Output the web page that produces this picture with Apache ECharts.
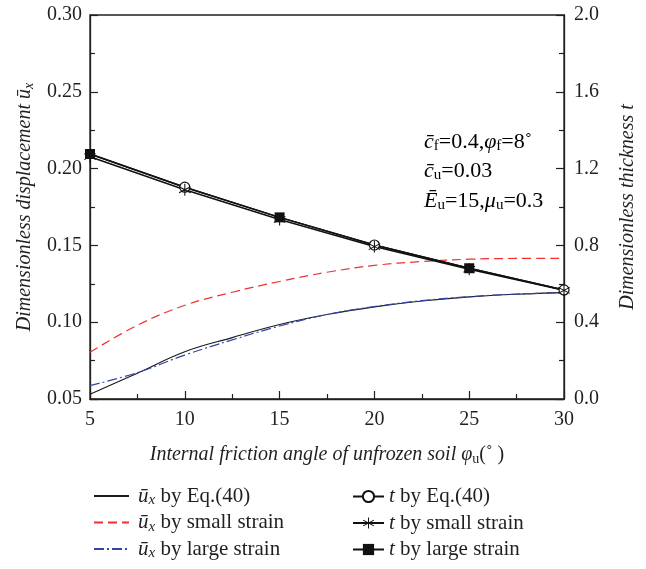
<!DOCTYPE html>
<html><head><meta charset="utf-8">
<script src="https://cdn.jsdelivr.net/npm/echarts/dist/echarts.min.js"></script>
<style>html,body{margin:0;padding:0;background:#fff}#c{width:646px;height:569px}</style>
</head><body><div id="c"></div><script>
// ---- data ----
const phi = [5, 7.5, 10, 12.5, 15, 17.5, 20, 22.5, 25, 27.5, 30];
const uxEq    = [0.0531, 0.0668, 0.0808, 0.0900, 0.0985, 0.1050, 0.1100, 0.1138, 0.1165, 0.1182, 0.1192];
const uxSmall = [0.0804, 0.0980, 0.1110, 0.1195, 0.1265, 0.1325, 0.1370, 0.1395, 0.1410, 0.1415, 0.1416];
const uxLarge = [0.0587, 0.0672, 0.0786, 0.0885, 0.0975, 0.1050, 0.1102, 0.1140, 0.1166, 0.1183, 0.1192];
const tPhi   = [5, 10, 15, 20, 25, 30];
const tEq    = [1.276, 1.103, 0.946, 0.802, 0.681, 0.568];
const tSmall = [1.262, 1.090, 0.935, 0.794, 0.676, 0.566];
const tLarge = [1.276, 1.103, 0.946, 0.802, 0.681, 0.568];
const circleAt = [10, 20, 30];
const squareAt = [5, 15, 25];
const starAt   = [5, 10, 15, 20, 25, 30];
const leftTicks = [0.05, 0.30, 0.05];
const rightTicks = [0, 2, 0.4];
const xTicks = [5, 30, 5];

const FONT = '"Liberation Serif", "DejaVu Serif", serif';
const INK = '#231f20';
const STAR = 'path://M4.6 0L5.4 0L5.4 10L4.6 10ZM0.87 2.15L9.53 7.15L9.13 7.85L0.47 2.85ZM0.47 7.15L9.13 2.15L9.53 2.85L0.87 7.85Z';

function mkRich(fs) {
  const ss = Math.round(fs * 0.7);
  return {
    n: {fontFamily: FONT, fontSize: fs, color: INK, lineHeight: 24},
    i: {fontFamily: FONT, fontSize: fs, color: INK, fontStyle: 'italic', lineHeight: 24},
    si: {fontFamily: FONT, fontSize: ss, color: INK, fontStyle: 'italic', lineHeight: 24, padding: [9, 0, 0, 0]},
    s: {fontFamily: FONT, fontSize: ss, color: INK, lineHeight: 24, padding: [9, 0, 0, 0]}
  };
}
const rich = mkRich(20);
const richLeg = mkRich(21);
const richAnn = mkRich(22);

const legendText = {
  uEq: '{i|ū}{si|x}{n| by Eq.(40)}',
  uSmall: '{i|ū}{si|x}{n| by small strain}',
  uLarge: '{i|ū}{si|x}{n| by large strain}',
  tEq: '{i|t}{n| by Eq.(40)}',
  tSmall: '{i|t}{n| by small strain}',
  tLarge: '{i|t}{n| by large strain}'
};

function pairs(xs, ys) { return xs.map((x, k) => [x, ys[k]]); }
function marked(xs, ys, at) {
  return xs.map((x, k) => at.indexOf(x) >= 0 ? {value: [x, ys[k]]} : {value: [x, ys[k]], symbol: 'none'});
}

const chart = echarts.init(document.getElementById('c'), null, {renderer: 'canvas'});
const axisCommon = {
  axisLine: {show: true, lineStyle: {color: INK, width: 1.3}},
  axisTick: {show: true, inside: true, length: 8, lineStyle: {color: INK, width: 1.2}},
  minorTick: {show: true, splitNumber: 2, length: 5, lineStyle: {color: INK, width: 1.2}},
  splitLine: {show: false},
  axisLabel: {fontFamily: FONT, fontSize: 20, color: INK}
};

chart.setOption({
  animation: false,
  backgroundColor: '#fff',
  grid: {left: 90, right: 78, top: 15, bottom: 170, show: true, borderColor: INK, borderWidth: 1.3, backgroundColor: 'transparent'},
  xAxis: Object.assign({}, axisCommon, {
    type: 'value', min: xTicks[0], max: xTicks[1], interval: xTicks[2],
    axisLabel: Object.assign({}, axisCommon.axisLabel, {margin: 11}),
    name: '{i|Internal friction angle of unfrozen soil φ}{s|u}{n|(˚ )}',
    nameLocation: 'middle', nameGap: 44,
    nameTextStyle: {rich: rich}
  }),
  yAxis: [
    Object.assign({}, axisCommon, {
      type: 'value', min: leftTicks[0], max: leftTicks[1], interval: leftTicks[2],
      axisLabel: Object.assign({}, axisCommon.axisLabel, {margin: 8, formatter: v => v.toFixed(2)}),
      name: '{i|Dimensionless displacement ū}{si|x}',
      nameLocation: 'middle', nameRotate: 90, nameGap: 50,
      nameTextStyle: {rich: rich}
    }),
    Object.assign({}, axisCommon, {
      type: 'value', position: 'right', min: rightTicks[0], max: rightTicks[1], interval: rightTicks[2],
      axisLabel: Object.assign({}, axisCommon.axisLabel, {margin: 10, formatter: v => v.toFixed(1)}),
      name: '{i|Dimensionless thickness t}',
      nameLocation: 'middle', nameRotate: 90, nameGap: 52,
      nameTextStyle: {rich: rich}
    })
  ],
  legend: [
    {
      data: ['uEq', 'uSmall', 'uLarge'], orient: 'vertical', left: 88, top: 479,
      itemWidth: 35, itemHeight: 14, itemGap: 2.5,
      itemStyle: {color: 'rgba(0,0,0,0)', borderWidth: 0, opacity: 0},
      formatter: n => legendText[n], textStyle: {rich: richLeg, padding: [0, 0, 0, 4]}
    },
    {
      data: ['tEq', 'tSmall', 'tLarge'], orient: 'vertical', left: 347, top: 481,
      itemWidth: 31, itemHeight: 14, itemGap: 5.5,
      formatter: n => legendText[n], textStyle: {rich: richLeg}
    }
  ],
  graphic: [
    {type: 'text', left: 424, top: 130, style: {text: '{i|c̄}{s|f}{n|=0.4,}{i|φ}{s|f}{n|=8˚}', rich: richAnn}},
    {type: 'text', left: 424, top: 159, style: {text: '{i|c̄}{s|u}{n|=0.03}', rich: richAnn}},
    {type: 'text', left: 424, top: 189, style: {text: '{i|Ē}{s|u}{n|=15,}{i|μ}{s|u}{n|=0.3}', rich: richAnn}}
  ],
  series: [
    {name: 'uEq', type: 'line', yAxisIndex: 0, data: pairs(phi, uxEq), smooth: 0.4, symbol: 'none',
     lineStyle: {color: '#1a1a1a', width: 1.2, type: 'solid'}, itemStyle: {color: '#1a1a1a'}},
    {name: 'uSmall', type: 'line', yAxisIndex: 0, data: pairs(phi, uxSmall), smooth: 0.4, symbol: 'none',
     lineStyle: {color: '#f0302f', width: 1.2, type: [9, 5]}, itemStyle: {color: '#f0302f'}},
    {name: 'uLarge', type: 'line', yAxisIndex: 0, data: pairs(phi, uxLarge), smooth: 0.4, symbol: 'none',
     lineStyle: {color: '#3345a8', width: 1.2, type: [10, 3, 2, 3]}, itemStyle: {color: '#3345a8'}},
    {name: 'tEq', type: 'line', yAxisIndex: 1, data: marked(tPhi, tEq, circleAt), symbol: 'circle', symbolSize: 10,
     showAllSymbol: true,
     lineStyle: {color: '#111', width: 1.5}, itemStyle: {color: '#fff', borderColor: '#111', borderWidth: 1.2}},
    {name: 'tSmall', type: 'line', yAxisIndex: 1, data: marked(tPhi, tSmall, starAt), symbol: STAR, symbolSize: 12,
     showAllSymbol: true,
     lineStyle: {color: '#111', width: 1.5}, itemStyle: {color: '#111'}},
    {name: 'tLarge', type: 'line', yAxisIndex: 1, data: marked(tPhi, tLarge, squareAt), symbol: 'rect', symbolSize: 10,
     showAllSymbol: true,
     lineStyle: {color: '#111', width: 1.5}, itemStyle: {color: '#111'}}
  ]
});
</script></body></html>
